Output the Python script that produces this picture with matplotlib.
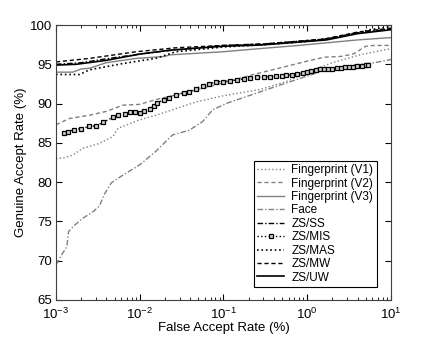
import numpy as np
import matplotlib
matplotlib.use('Agg')
import matplotlib.pyplot as plt

plt.rcParams['font.family'] = ['Liberation Sans', 'DejaVu Sans']
plt.rcParams['mathtext.fontset'] = 'custom'
plt.rcParams['mathtext.rm'] = 'Liberation Sans'
plt.rcParams['mathtext.it'] = 'Liberation Sans'

# data: log10(FAR %) and GAR %
fp1_lx = [-3, -2.9, -2.8, -2.68, -2.49, -2.32, -2.26, -2.01, -1.81, -1.61, -1.33, -1.0, -0.56, -0.25, 0.0, 0.3, 0.63, 1.0]
fp1_y = [83.0, 83.1, 83.45, 84.3, 84.9, 85.8, 86.85, 87.9, 88.5, 89.2, 90.2, 91.0, 91.8, 92.8, 94.0, 95.2, 96.2, 97.0]

fp2_lx = [-3, -2.84, -2.61, -2.4, -2.2, -2.0, -1.81, -1.41, -1.01, -0.68, -0.3, 0.0, 0.2, 0.4, 0.55, 0.7, 0.8, 1.0]
fp2_y = [87.3, 88.1, 88.5, 89.0, 89.8, 89.9, 90.5, 91.5, 92.6, 93.6, 94.6, 95.4, 95.9, 96.0, 96.3, 97.3, 97.4, 97.4]

fp3_lx = [-3, -2.8, -2.7, -2.6, -2.4, -2.04, -1.7, -1.64, -1.0, -0.56, -0.1, 0.3, 0.6, 1.0]
fp3_y = [94.0, 94.0, 94.4, 94.5, 95.2, 95.75, 96.0, 96.2, 96.6, 97.0, 97.4, 97.8, 98.1, 98.4]

face_lx = [-3, -2.93, -2.87, -2.85, -2.78, -2.68, -2.55, -2.48, -2.42, -2.34, -2.2, -2.0, -1.81, -1.61,
           -1.41, -1.25, -1.13, -0.97, -0.56, -0.2, 0.2, 0.55, 0.8, 1.0]
face_y = [69.5, 70.8, 71.8, 73.7, 74.5, 75.4, 76.3, 77.0, 78.5, 79.9, 80.9, 82.2, 83.9, 86.0,
          86.6, 87.7, 89.2, 90.0, 91.5, 92.8, 94.2, 94.9, 95.2, 95.6]

ss_lx = [-3, -2.7, -2.4, -2.0, -1.6, -1.0, -0.5, 0.2, 0.6, 1.0]
ss_y = [95.0, 95.2, 95.7, 96.3, 96.8, 97.4, 97.6, 98.2, 99.0, 99.5]

mis_lx = [-2.9, -2.86, -2.78, -2.70, -2.60, -2.52, -2.44, -2.32, -2.26, -2.18, -2.12, -2.06, -2.0, -1.95,
          -1.88, -1.83, -1.79, -1.71, -1.65, -1.57, -1.47, -1.41, -1.33, -1.25, -1.17, -1.09, -1.01,
          -0.92, -0.84, -0.76, -0.68, -0.6, -0.52, -0.44, -0.37, -0.3, -0.25, -0.18, -0.12, -0.05,
          0.0, 0.05, 0.1, 0.15, 0.2, 0.25, 0.3, 0.35, 0.4, 0.45, 0.5, 0.55, 0.6, 0.65, 0.7, 0.73]
mis_y = [86.2, 86.4, 86.7, 86.8, 87.1, 87.15, 87.6, 88.25, 88.55, 88.7, 88.9, 88.9, 88.85, 89.1,
         89.3, 89.7, 90.1, 90.45, 90.7, 91.1, 91.4, 91.5, 91.9, 92.3, 92.45, 92.8, 92.8,
         92.9, 93.0, 93.15, 93.3, 93.35, 93.4, 93.4, 93.5, 93.55, 93.6, 93.7, 93.8, 93.9,
         94.0, 94.1, 94.25, 94.35, 94.4, 94.45, 94.45, 94.5, 94.55, 94.6, 94.65, 94.7, 94.75, 94.8, 94.85, 94.9]

mas_lx = [-3, -2.72, -2.6, -2.2, -1.81, -1.57, -1.0, -0.5, 0.0, 0.39, 0.75, 1.0]
mas_y = [93.7, 93.7, 94.3, 95.1, 95.75, 96.6, 97.2, 97.5, 97.9, 98.5, 99.4, 99.8]

mw_lx = [-3, -2.6, -2.04, -1.57, -1.0, -0.5, 0.2, 0.6, 1.0]
mw_y = [95.3, 95.75, 96.6, 97.1, 97.4, 97.6, 98.2, 99.1, 99.6]

uw_lx = [-3, -2.76, -2.4, -2.0, -1.64, -1.0, -0.56, 0.23, 0.6, 1.0]
uw_y = [94.9, 95.0, 95.5, 96.3, 96.8, 97.3, 97.45, 98.1, 98.9, 99.4]

gray = '#808080'

fig = plt.figure(figsize=(4.32, 3.37), dpi=100)
ax = fig.add_axes([0.1296, 0.1098, 0.7754, 0.816])

def far(lx):
    return 10 ** np.array(lx)

ax.plot(far(fp1_lx), fp1_y, ':', color=gray, lw=1, label='Fingerprint (V1)')
ax.plot(far(fp2_lx), fp2_y, '--', color=gray, lw=1, dashes=(3, 2), label='Fingerprint (V2)')
ax.plot(far(fp3_lx), fp3_y, '-', color=gray, lw=1, label='Fingerprint (V3)')
ax.plot(far(face_lx), face_y, '-.', color=gray, lw=1, dashes=(4, 1.5, 1, 1.5), label='Face')
ax.plot(far(ss_lx), ss_y, '-.', color='k', lw=1, dashes=(4, 1.5, 1, 1.5), label='ZS/SS')
ax.plot(far(mis_lx), mis_y, ':', color='k', lw=1, marker='s', ms=3.5, mfc='#d0d0d0', mec='k', mew=0.9, label='ZS/MIS')
ax.plot(far(mas_lx), mas_y, ':', color='k', lw=1.2, label='ZS/MAS')
ax.plot(far(mw_lx), mw_y, '--', color='k', lw=1, dashes=(3, 2), label='ZS/MW')
ax.plot(far(uw_lx), uw_y, '-', color='k', lw=1.2, label='ZS/UW')

ax.set_xscale('log')
ax.set_xlim(1e-3, 10)
ax.set_ylim(65, 100)
ax.set_yticks([65, 70, 75, 80, 85, 90, 95, 100])
ax.tick_params(which='both', direction='in', top=True, right=True, labelsize=9.5)
ax.tick_params(axis='x', pad=5)
ax.tick_params(axis='y', pad=3)
ax.tick_params(which='major', length=4)
ax.tick_params(which='minor', length=2)
ax.set_xlabel('False Accept Rate (%)', fontsize=9.5, labelpad=0)
ax.set_ylabel('Genuine Accept Rate (%)', fontsize=9.5, labelpad=2)
for s in ax.spines.values():
    s.set_color('#404040')

leg = ax.legend(loc='lower right', bbox_to_anchor=(0.958, 0.047), fontsize=8.5, frameon=True,
                fancybox=False, edgecolor='k', framealpha=1, handlelength=2.3,
                labelspacing=0.12, borderpad=0.3, handletextpad=0.6, borderaxespad=0)
leg.get_frame().set_linewidth(0.8)

fig.savefig('out.png', dpi=100)
